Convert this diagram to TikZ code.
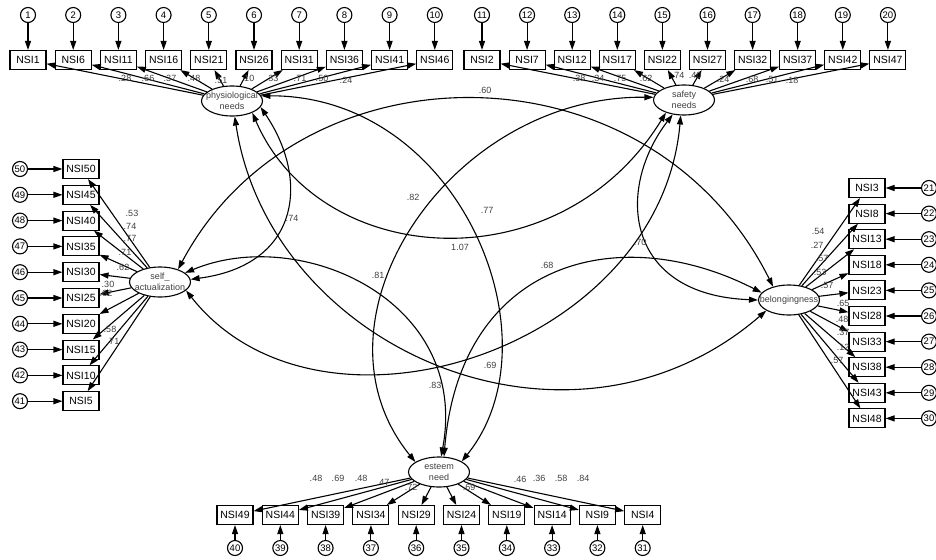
\documentclass[tikz,border=0pt]{standalone}
\usepackage{fontspec}
\setmainfont{Liberation Sans}
\usetikzlibrary{arrows.meta,shapes.geometric}
\begin{document}
\begin{tikzpicture}[x=1pt,y=-1pt,>={Triangle[length=9pt,width=6pt]},line width=1.1pt,
  obs/.style={draw,minimum width=36pt,minimum height=19pt,inner sep=1pt,font=\fontsize{10.5}{12}\selectfont},
  err/.style={draw,circle,minimum size=15pt,inner sep=0pt,font=\fontsize{9.5}{10}\selectfont},
  lat/.style={draw,ellipse,minimum width=61pt,minimum height=30pt,inner sep=0pt},
  lattxt/.style={align=center,inner sep=0pt,font=\fontsize{9}{10.5}\selectfont,text=black!75},
  est/.style={inner sep=0pt,font=\fontsize{9}{10}\selectfont,text=black!75}]
  \useasboundingbox (0,0) rectangle (936,559);
  \node[lat] (phys) at (232,101) {};
  \node[lat] (safe) at (684,100) {};
  \node[lat] (self) at (160,282) {};
  \node[lat] (belo) at (789,300) {};
  \node[lat] (este) at (439,472) {};
  \node[lattxt] at (phys) {physiological\\needs};
  \node[lattxt] at (safe) {safety\\needs};
  \node[lattxt] at (self) {self\_\\actualization};
  \node[lattxt] at (belo) {belongingness};
  \node[lattxt] at (este) {esteem\\need};
  \foreach \i in {0,...,9} {
    \pgfmathtruncatemacro\k{1+5*\i}
    \pgfmathtruncatemacro\m{1+\i}
    \node[obs] (nsi\k) at (28+45.2*\i,60) {NSI\k};
    \node[err] (err\m) at (28+45.2*\i,15) {\m};
    \draw[->] (err\m) -- (nsi\k);
    \draw[->] (phys) -- (nsi\k);
  }
  \foreach \i in {0,...,9} {
    \pgfmathtruncatemacro\k{2+5*\i}
    \pgfmathtruncatemacro\m{11+\i}
    \node[obs] (nsi\k) at (482+45.1*\i,60) {NSI\k};
    \node[err] (err\m) at (482+45.1*\i,15) {\m};
    \draw[->] (err\m) -- (nsi\k);
    \draw[->] (safe) -- (nsi\k);
  }
  \foreach \i in {0,...,9} {
    \pgfmathtruncatemacro\k{3+5*\i}
    \pgfmathtruncatemacro\m{21+\i}
    \node[obs] (nsi\k) at (867,188+25.6*\i) {NSI\k};
    \node[err] (err\m) at (929,188+25.6*\i) {\m};
    \draw[->] (err\m) -- (nsi\k);
    \draw[->] (belo) -- (nsi\k);
  }
  \foreach \i in {0,...,9} {
    \pgfmathtruncatemacro\k{49-5*\i}
    \pgfmathtruncatemacro\m{40-\i}
    \node[obs] (nsi\k) at (235+45.3*\i,515) {NSI\k};
    \node[err] (err\m) at (235+45.3*\i,548) {\m};
    \draw[->] (err\m) -- (nsi\k);
    \draw[->] (este) -- (nsi\k);
  }
  \foreach \i in {0,...,9} {
    \pgfmathtruncatemacro\k{50-5*\i}
    \pgfmathtruncatemacro\m{50-\i}
    \node[obs] (nsi\k) at (81,169+25.8*\i) {NSI\k};
    \node[err] (err\m) at (20,169+25.8*\i) {\m};
    \draw[->] (err\m) -- (nsi\k);
    \draw[->] (self) -- (nsi\k);
  }
  \draw[<->] (phys.10) .. controls (460,95) and (560,340) .. (este.25);
  \draw[<->] (phys.-30) .. controls (320,270) and (560,285) .. (safe.215);
  \draw[<->] (phys.-12) .. controls (310,180) and (300,265) .. (self.5);
  \draw[<->] (phys.-80) .. controls (270,350) and (570,480) .. (belo.205);
  \draw[<->] (self.35) .. controls (300,40) and (650,40) .. (belo.140);
  \draw[<->] (safe.175) .. controls (450,95) and (300,320) .. (este.157);
  \draw[<->] (safe.258) .. controls (660,350) and (320,460) .. (self.-18);
  \draw[<->] (safe.232) .. controls (615,190) and (625,295) .. (belo.180);
  \draw[<->] (self.20) .. controls (300,225) and (470,300) .. (este.82);
  \draw[<->] (belo.165) .. controls (620,220) and (460,260) .. (este.72);
  \foreach \x/\y/\t in {125/78/.28,148/78/.66,170/78/.37,194/78/.48,221/80/.51,248/78/.10,272/78/.33,300/78/.71,322/78/.50,346/80/.24,
    579/78/.38,598/78/.34,620/78/.75,646/78/.62,678/75/.74,695/75/.40,723/79/.24,752/79/.68,772/79/.51,792/80/.18,
    132/213/.53,130/226/.74,130/238/.77,125/252/.71,123/267/.62,108/284/.30,106/293/.62,110/329/.58,113/341/.71,
    818/231/.54,817/245/.27,822/258/.57,820/272/.53,827/285/.57,843/303/.65,842/319/.48,843/332/.37,843/347/.12,837/360/.57,
    316/478/.48,338/478/.69,361/478/.48,383/482/.47,411/487/.72,469/487/.69,520/479/.46,539/478/.36,561/478/.58,583/478/.84,
    485/90/.60,292/218/.74,413/197/.82,487/210/.77,460/247/1.07,640/242/.70,378/275/.81,547/265/.68,435/385/.83,490/365/.69}
    \node[est] at (\x,\y) {\t};
\end{tikzpicture}
\end{document}
